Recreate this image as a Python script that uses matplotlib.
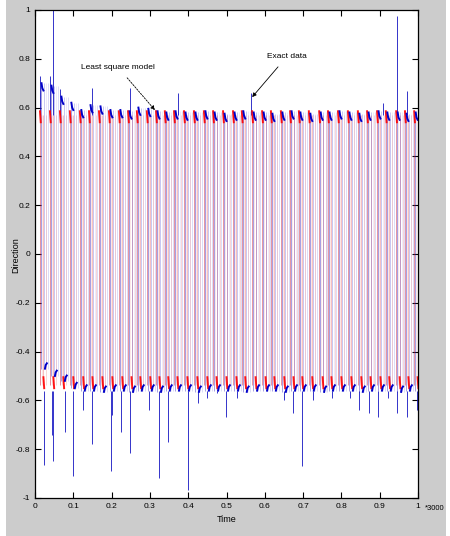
import numpy as np
import matplotlib
matplotlib.use("Agg")
import matplotlib.pyplot as plt

plt.rcParams['font.family'] = ['Liberation Sans Narrow', 'Liberation Sans', 'DejaVu Sans']

# rising edges of the model signal (time / 3000)
red_rise = [0.013, 0.039, 0.065, 0.091, 0.117, 0.141, 0.167, 0.193, 0.219, 0.243,
            0.266, 0.292, 0.316, 0.339, 0.363, 0.389, 0.415, 0.441, 0.465, 0.491,
            0.517, 0.540, 0.567, 0.593, 0.616, 0.642, 0.666, 0.689, 0.715, 0.742,
            0.765, 0.791, 0.817, 0.843, 0.867, 0.893, 0.916, 0.943, 0.966, 0.990]
red_top = 0.57
red_bot = -0.535

# exact data levels per cycle
blue_top = [0.70, 0.69, 0.645, 0.62, 0.59, 0.61, 0.605, 0.59, 0.59, 0.585,
            0.60, 0.595, 0.585, 0.58, 0.585, 0.58, 0.58, 0.585, 0.58, 0.575,
            0.58, 0.585, 0.58, 0.58, 0.575, 0.58, 0.585, 0.58, 0.575, 0.58,
            0.58, 0.585, 0.58, 0.575, 0.58, 0.585, 0.58, 0.58, 0.575, 0.58]
blue_bot = [-0.47, -0.50, -0.52, -0.55, -0.56, -0.56, -0.565, -0.56, -0.56, -0.565,
            -0.56, -0.56, -0.565, -0.56, -0.56, -0.56, -0.565, -0.56, -0.56, -0.56,
            -0.56, -0.565, -0.56, -0.56, -0.56, -0.565, -0.56, -0.56, -0.56, -0.565,
            -0.56, -0.56, -0.56, -0.565, -0.56, -0.56, -0.56, -0.565, -0.56, -0.56]

# spikes in the exact data
spike_dn_t = [0.023, 0.044, 0.047, 0.078, 0.099, 0.125, 0.149, 0.198, 0.201, 0.225,
              0.248, 0.298, 0.324, 0.347, 0.399, 0.426, 0.449, 0.475, 0.499, 0.527,
              0.650, 0.674, 0.697, 0.726, 0.775, 0.822, 0.846, 0.872, 0.896, 0.922,
              0.945, 0.971, 0.997]
spike_dn_v = [-0.865, -0.74, -0.85, -0.73, -0.91, -0.64, -0.78, -0.89, -0.66, -0.73,
              -0.815, -0.64, -0.92, -0.77, -0.967, -0.61, -0.59, -0.57, -0.67, -0.59,
              -0.60, -0.65, -0.87, -0.60, -0.59, -0.59, -0.64, -0.65, -0.67, -0.59,
              -0.65, -0.67, -0.64]
spike_up_t = [0.013, 0.039, 0.047, 0.065, 0.149, 0.248, 0.373, 0.564, 0.909, 0.945, 0.971]
spike_up_v = [0.73, 0.73, 1.0, 0.676, 0.68, 0.68, 0.66, 0.66, 0.62, 0.975, 0.67]

xticks = [0, 0.1, 0.2, 0.3, 0.4, 0.5, 0.6, 0.7, 0.8, 0.9, 1]
yticks = [-1, -0.8, -0.6, -0.4, -0.2, 0, 0.2, 0.4, 0.6, 0.8, 1]

fig = plt.figure(figsize=(4.5, 5.36), dpi=100)
fig.patch.set_facecolor('#cccccc')
fig.patches.append(plt.Rectangle((0, 0), 6 / 450, 1, transform=fig.transFigure,
                                 facecolor='white', edgecolor='none'))
fig.patches.append(plt.Rectangle((446 / 450, 0), 4 / 450, 1, transform=fig.transFigure,
                                 facecolor='white', edgecolor='none'))
ax = fig.add_axes([35 / 450, 1 - 498 / 536, 383 / 450, 488 / 536])
ax.set_facecolor('white')

ru = np.array(red_rise)
rd = ru + 0.009
bu = ru + 0.002
bd = ru + 0.011
bt = np.array(blue_top)
bb = np.array(blue_bot)

# vertical strokes
ax.vlines(ru, red_bot, red_top, color='#c81e3c', lw=0.55, alpha=0.6)
ax.vlines(rd, red_bot, red_top, color='#e02020', lw=0.5, alpha=0.4)
ax.vlines(ru + 0.017, red_bot, red_top, color='#e02020', lw=0.5, alpha=0.25)
ax.vlines(ru + 0.0055, red_bot, red_top, color='#e02020', lw=0.5, alpha=0.15)
ax.vlines(bu, bb, bt, color='#3020c0', lw=0.55, alpha=0.55)
ax.vlines(bd, bb, bt, color='#2020d0', lw=0.5, alpha=0.35)
ax.vlines(bu + 0.019, bb, bt, color='#2020d0', lw=0.5, alpha=0.22)
ax.vlines(bu + 0.0145, bb, bt, color='#6040d0', lw=0.5, alpha=0.15)

# spikes
ax.vlines(spike_dn_t, -0.56, spike_dn_v, color='#1010c0', lw=0.7, alpha=0.85)
ax.vlines(spike_up_t, 0.57, spike_up_v, color='#1010c0', lw=0.7, alpha=0.85)

# level marks
for k in range(len(ru)):
    ax.plot([ru[k], ru[k] + 0.002], [red_top + 0.015, red_top - 0.03], color='red', lw=1.4, alpha=0.9)
    ax.plot([rd[k], rd[k] + 0.002], [red_bot + 0.03, red_bot - 0.015], color='red', lw=1.4, alpha=0.9)
    ax.plot([bu[k] + 0.002, bu[k] + 0.004, bu[k] + 0.007],
            [bt[k], bt[k] - 0.02, bt[k] - 0.03], color='#0000c8', lw=1.4)
    ax.plot([bd[k] + 0.002, bd[k] + 0.004, bd[k] + 0.007],
            [bb[k], bb[k] + 0.015, bb[k] + 0.022], color='#0000c8', lw=1.4)

ax.set_xlim(0, 1)
ax.set_ylim(-1, 1)
ax.set_xticks(xticks)
ax.set_xticklabels(['0', '0.1', '0.2', '0.3', '0.4', '0.5', '0.6', '0.7', '0.8', '0.9', '1'])
ax.set_yticks(yticks)
ax.set_yticklabels(['-1', '-0.8', '-0.6', '-0.4', '-0.2', '0', '0.2', '0.4', '0.6', '0.8', '1'])
ax.tick_params(direction='in', length=4, width=0.8, labelsize=6, top=True, right=True)
for s in ax.spines.values():
    s.set_linewidth(0.9)

ax.set_xlabel('Time', fontsize=6.5, labelpad=4)
fig.text(16 / 450, 1 - 255 / 536, 'Direction', fontsize=6.5, rotation=90,
         ha='center', va='center')
fig.text(435 / 450, 1 - 508 / 536, '*3000', fontsize=5.5, ha='center', va='center')

ax.annotate('Least square model', xy=(0.313, 0.59), xytext=(0.217, 0.765),
            fontsize=6, ha='center', va='center',
            arrowprops=dict(arrowstyle='-|>', color='black', lw=0.6, ls=(0, (2, 1.5)),
                            shrinkA=4, shrinkB=0, mutation_scale=6))
ax.annotate('Exact data', xy=(0.567, 0.643), xytext=(0.658, 0.81),
            fontsize=6, ha='center', va='center',
            arrowprops=dict(arrowstyle='-|>', color='black', lw=0.6,
                            shrinkA=4, shrinkB=0, mutation_scale=6))

fig.savefig('out.png', dpi=100, facecolor=fig.get_facecolor())
